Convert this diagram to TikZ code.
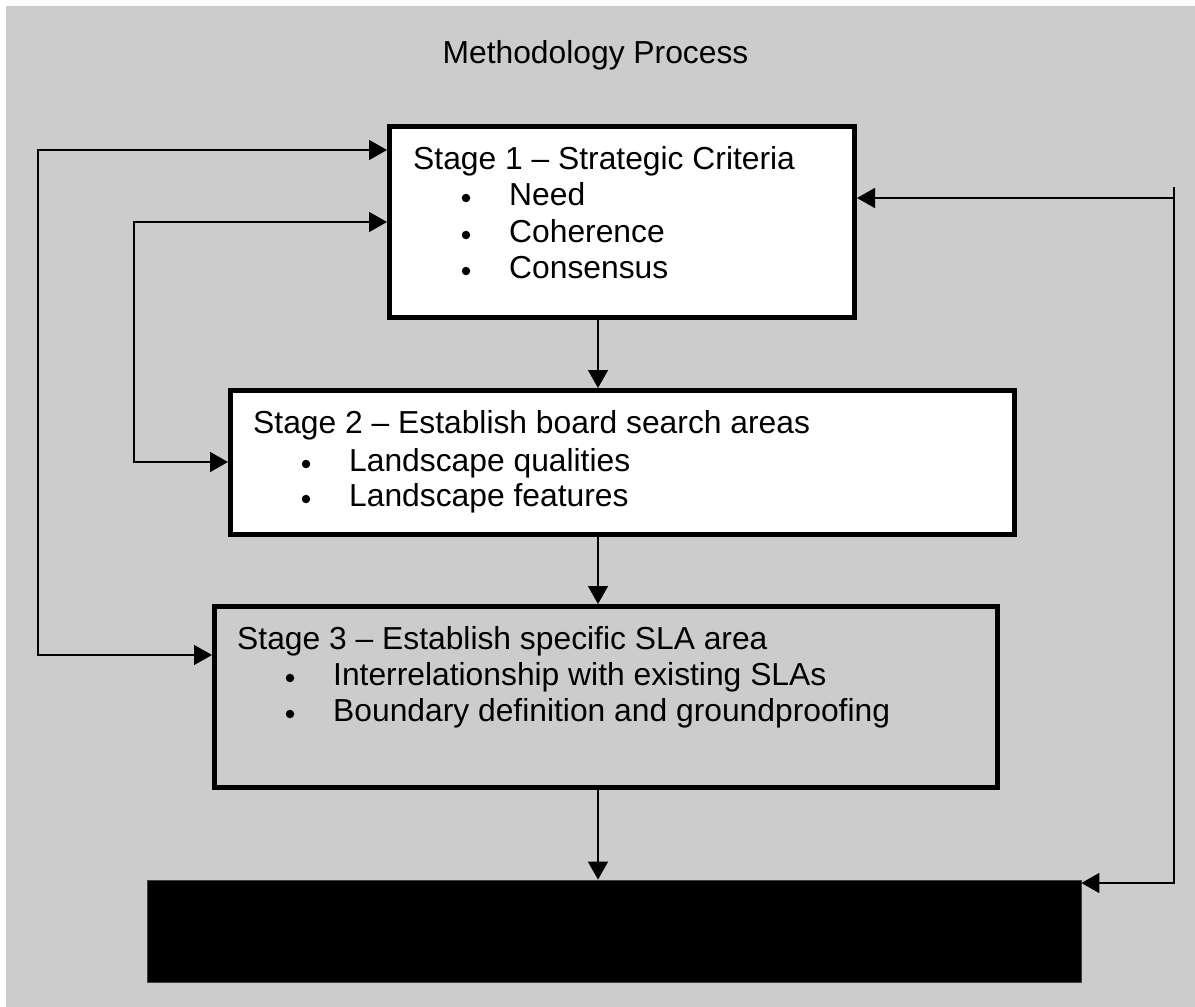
\documentclass[tikz,border=0pt]{standalone}
\usepackage{fontspec}
\setmainfont{Liberation Sans}
\usetikzlibrary{arrows.meta}
\definecolor{bggray}{RGB}{204,204,204}
\begin{document}
\begin{tikzpicture}[x=1pt,y=-1pt,
  font=\fontsize{31.8}{38}\selectfont,
  stagebox/.style={draw=black, line width=5pt, inner sep=0pt},
  txt/.style={anchor=base west, inner sep=0pt},
  bul/.style={circle, fill=black, inner sep=0pt, minimum size=8.5pt},
  conn/.style={line width=1.5pt, -{Triangle[length=18pt,width=20pt]}},
  dbl/.style={line width=1.5pt, {Triangle[length=18pt,width=20pt]}-{Triangle[length=18pt,width=20pt]}},
  plain/.style={line width=1.5pt}]
\useasboundingbox (0,0) rectangle (1195,1007);
\fill[white] (0,0) rectangle (1195,1007);
\fill[bggray] (6,6) rectangle (1195,1007);

\node[anchor=base, inner sep=0pt] (title) at (595.5,63) {Methodology Process};

% boxes
\node[stagebox, fill=white, minimum width=465pt, minimum height=191pt] (b1) at (622,222) {};
\node[stagebox, fill=white, minimum width=784pt, minimum height=144pt] (b2) at (622.5,462.5) {};
\node[stagebox, fill=bggray, minimum width=783pt, minimum height=181pt] (b3) at (606,697) {};
\node[fill=black, draw=black!75, line width=0.8pt, inner sep=0pt, minimum width=934pt, minimum height=102pt] (b4) at (614,931) {};

% box 1 text
\node[txt] (t1) at (413,169) {Stage 1 – Strategic Criteria};
\node[bul] (t1b1) at (466,198) {};
\node[txt] (t1i1) at (509,205) {Need};
\node[bul] (t1b2) at (466,235) {};
\node[txt] (t1i2) at (509,242) {Coherence};
\node[bul] (t1b3) at (466,271) {};
\node[txt] (t1i3) at (509,278) {Consensus};

% box 2 text
\node[txt] (t2) at (253,433) {Stage 2 – Establish board search areas};
\node[bul] (t2b1) at (306,464) {};
\node[txt] (t2i1) at (349,471) {Landscape qualities};
\node[bul] (t2b2) at (306,499) {};
\node[txt] (t2i2) at (349,506) {Landscape features};

% box 3 text
\node[txt] (t3) at (237,649) {Stage 3 – Establish specific SLA area};
\node[bul] (t3b1) at (290,678) {};
\node[txt] (t3i1) at (333,685) {Interrelationship with existing SLAs};
\node[bul] (t3b2) at (290,714) {};
\node[txt] (t3i2) at (333,721) {Boundary definition and groundproofing};

% routing coordinates
\coordinate (M) at (598,0);
\coordinate (L1) at (38,150);
\coordinate (L2) at (38,655);
\coordinate (I1) at (134,222);
\coordinate (I2) at (134,462);
\coordinate (R0) at (1174,187);
\coordinate (R1) at (1174,198);
\coordinate (R2) at (1174,883);

% connectors
\draw[conn] (b1.south -| M) -- (b2.north -| M);
\draw[conn] (b2.south -| M) -- (b3.north -| M);
\draw[conn] (b3.south -| M) -- (b4.north -| M);
\draw[dbl] (b1.west |- L1) -- (L1) -- (L2) -- (b3.west |- L2);
\draw[dbl] (b1.west |- I1) -- (I1) -- (I2) -- (b2.west |- I2);
\draw[dbl] (b1.east |- R1) -- (R1) -- (R2) -- (b4.east |- R2);
\draw[plain] (R0) -- (R1);
\end{tikzpicture}
\end{document}
